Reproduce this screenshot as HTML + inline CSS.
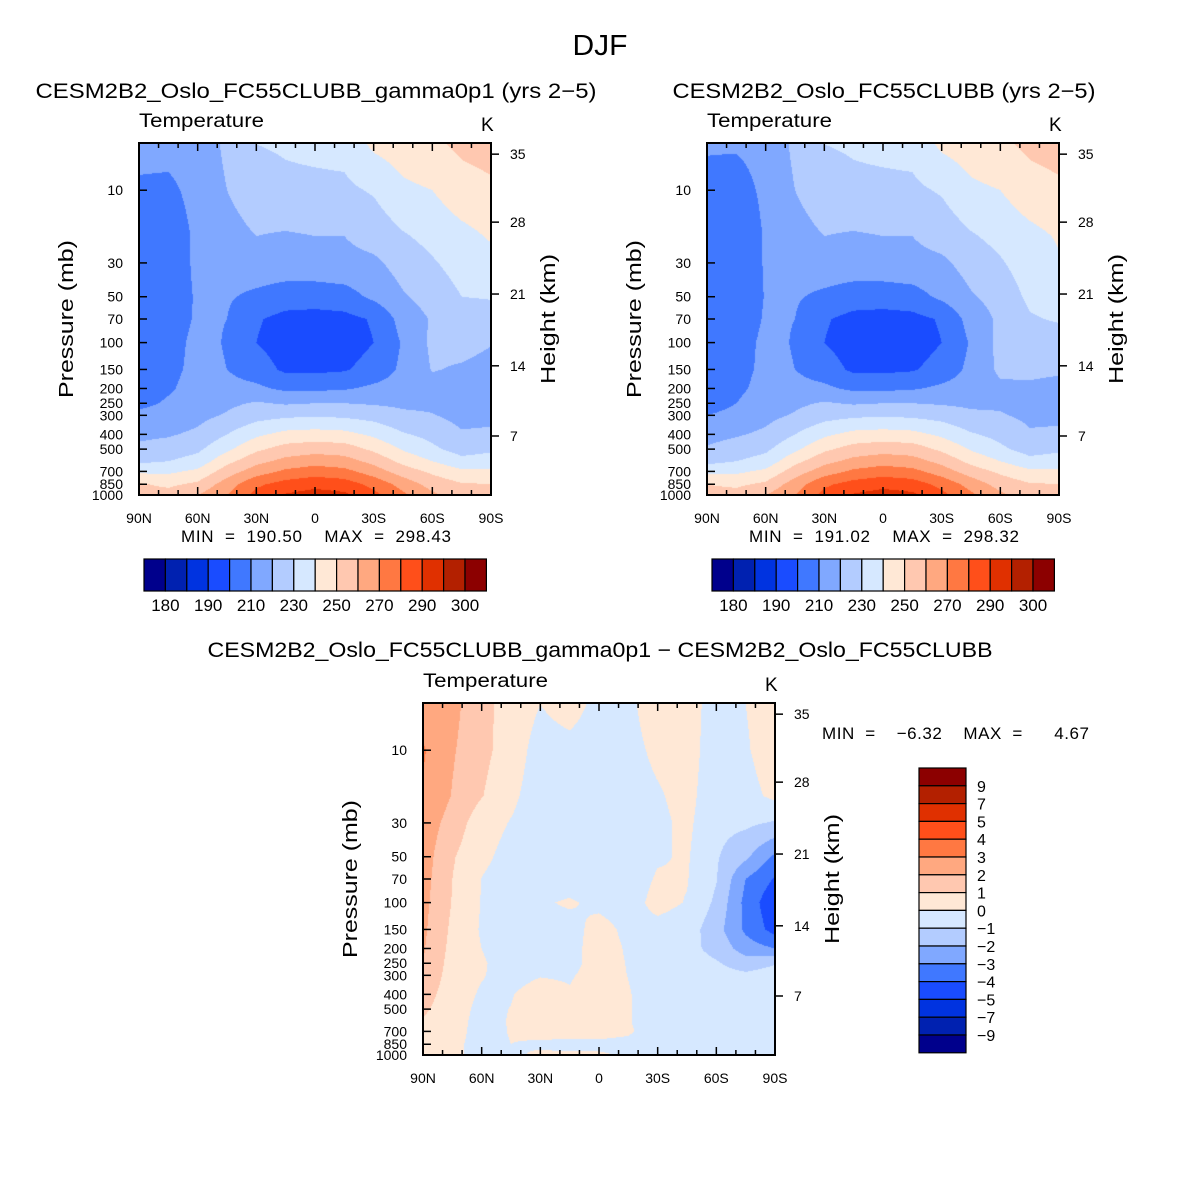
<!DOCTYPE html>
<html><head><meta charset="utf-8">
<style>
html,body{margin:0;padding:0;background:#fff;}
#root{position:relative;width:1200px;height:1200px;overflow:hidden;font-family:"Liberation Sans",sans-serif;}
canvas{position:absolute;}
svg{position:absolute;left:0;top:0;}
</style></head>
<body>
<div id="root">
<canvas id="c1" width="352" height="352" style="left:139px;top:143px"></canvas>
<canvas id="c2" width="352" height="352" style="left:707px;top:143px"></canvas>
<canvas id="c3" width="352" height="352" style="left:423px;top:703px"></canvas>
<svg id="ov" width="1200" height="1200">
<text x="600" y="55" font-size="29" text-anchor="middle" textLength="55" lengthAdjust="spacingAndGlyphs">DJF</text>
</svg>
</div>
<script>
const lats=[90,75,60,45,30,15,0,-15,-30,-45,-60,-75,-90];
const plevs=[5,10,20,30,50,70,100,150,200,250,300,400,500,600,700,850,1000];
const tempLevels=[180,185,190,200,210,220,230,240,250,260,270,280,290,295,300];
const diffLevels=[-9,-7,-5,-4,-3,-2,-1,0,1,2,3,4,5,7,9];
const tempLabels=["180","190","210","230","250","270","290","300"];
const diffLabels=["9","7","5","4","3","2","1","0","\u22121","\u22122","\u22123","\u22124","\u22125","\u22127","\u22129"];
const pTicks=[10,30,50,70,100,150,200,250,300,400,500,700,850,1000];
const hTicks=[35,28,21,14,7];
const hTickP=[5.8,16.2,48,142,410];
const latTicks=["90N","60N","30N","0","30S","60S","90S"];
const colors=["#00008c","#0021b0","#0033e0","#1a4cff","#4078ff","#80a8ff","#b3ccff","#d6e8ff","#ffe8d6","#ffc8b0","#ffa880","#ff7842","#ff4f1a","#e03000","#b32000","#8c0000"];
// columns per latitude (90N..90S), values at plevs (5..1000 mb)
const tempA=[
[213,208.5,203,202,203,204,206,205,206,208,212,218,222,228,238,251,254],
[213,208,204,204,205,206,207,208,209,211,213,219,224,230,238,248,254],
[214,213,212,212,211,211,212,212,213,215,217,222,228,234,242,252,260],
[222,220,216,214,211,210,209.5,210,213,218,221,230,238,247,255,265,270],
[230,226,220,216,208,201,200,205,212,221,226,238,248,257,265,278,283],
[231,228,219,216,205,197,195,198,208,219,228,243,254,263,272,284,291],
[232,228,220,216,205,196,194,198,208,220,229,244,256,266,275,287,294],
[233,228,220,217,206,197,195,199,209,220,228,243,255,264,273,285,292],
[242,231,224,218,212,201,200,204,212,219,226,238,248,257,265,277,283],
[245,238,229,224,219,214,211,212,214,218,222,231,239,247,255,266,272],
[248,240,233,229,224,221,222,220.5,217,218,220.5,227,232,240,248,256,262],
[252,246,237,234,230,226,223,219,216,215,217,221,226,233,242,251,255],
[254,248,241,237,230.5,227,220.5,217,214,213,217,222,228,235,242,250,254]];
const tempB=[
[211,207,201,200,201,202,204,203,204,206,210,217,221,227,237,250,253.5],
[211,206,202,202,203,204,206,207,208,210,212.5,219,224,230,238,248,254],
[213,212,211,211,210.5,211,212,212,213,215,217,222,228,234,242,252,260],
[222,220,216,214,211,210,209.5,210,213,218,221,230,238,247,255,265,270],
[230,226,220,216,208,201,200,205,212,221,226,238,248,257,265,278,283],
[231,228,219,216,205,197,195,198,208,219,228,243,254,263,272,284,291],
[232,228,220,216,205,196,194,198,208,220,229,244,256,266,275,287,294],
[233,228,220,217,206,197,195,199,209,220,228,243,255,264,273,285,292],
[242,231,224,218,212,201,200,204,212,219,226,238,248,257,265,277,283],
[245,238,229,224,219,214,211,212.5,214.5,218,222,231,239,247,255,266,272],
[248,240,233,229,224,222,223,222,218,218.5,220.8,227,232,240,248,256,262],
[252,246,237,235,232,229,226,222,218.5,216.5,218,221,226,233,242,251,255],
[254,248,241,239,234,231,225,221.5,217,214,217.5,222,228,235,242,250,254]];
const diffC=[
[2.5,3.1,2.9,2.6,2.5,2.4,2.3,2.2,2.1,2.0,1.9,1.5,1.2,0.9,0.6,0.5,0.5],
[2.3,2.1,1.95,1.6,1.1,1.0,0.95,0.8,0.7,0.6,0.5,0.4,0.35,0.3,0.3,0.2,0.2],
[1.3,1.3,1.05,0.4,0.2,-0.02,-0.05,-0.1,0.0,0.1,0.05,-0.1,-0.2,-0.25,-0.3,-0.3,-0.3],
[0.6,0.5,0.2,-0.05,-0.3,-0.4,-0.5,-0.5,-0.5,-0.4,-0.3,-0.05,0.02,0.05,0.05,0.0,-0.1],
[0.0,-0.4,-0.5,-0.5,-0.5,-0.4,-0.1,-0.3,-0.4,-0.3,-0.05,0.4,0.4,0.3,0.2,-0.1,0.1],
[0.4,-0.3,-0.5,-0.6,-0.6,-0.4,0.1,-0.3,-0.3,-0.3,-0.1,0.1,0.5,0.4,0.3,-0.2,0.1],
[-0.3,-0.5,-0.6,-0.6,-0.6,-0.5,-0.2,0.3,0.4,0.4,0.4,0.5,0.5,0.4,0.3,-0.2,0.1],
[-0.2,-0.3,-0.4,-0.5,-0.5,-0.5,-0.4,-0.2,-0.1,-0.05,-0.02,0.05,0.05,0.05,0.1,-0.2,-0.1],
[0.5,0.2,-0.1,-0.2,-0.1,0.1,0.3,-0.3,-0.4,-0.4,-0.4,-0.4,-0.4,-0.4,-0.4,-0.4,-0.4],
[0.4,0.4,0.3,0.2,0.1,0.05,-0.05,-0.5,-0.7,-0.6,-0.5,-0.5,-0.5,-0.5,-0.5,-0.5,-0.5],
[-0.4,-0.5,-0.6,-0.7,-0.9,-0.95,-1.2,-1.6,-1.3,-0.9,-0.6,-0.5,-0.5,-0.5,-0.5,-0.5,-0.5],
[0.0,-0.1,-0.3,-0.8,-1.8,-3.0,-3.3,-3.2,-2.5,-1.5,-0.8,-0.5,-0.4,-0.4,-0.4,-0.4,-0.4],
[0.5,0.5,0.2,-1.1,-3.2,-4.1,-4.8,-4.4,-3.0,-1.05,-0.6,-0.4,-0.3,-0.3,-0.3,-0.3,-0.3]];

const W=352,H=352,PTOP=4.9,PBOT=1000;
function yOfP(p){return (Math.log10(p)-Math.log10(PTOP))/(Math.log10(PBOT)-Math.log10(PTOP))*H;}
function xOfLat(l){return (90-l)/180*W;}
function hexRGB(h){return [parseInt(h.substr(1,2),16),parseInt(h.substr(3,2),16),parseInt(h.substr(5,2),16)];}
const rgb=colors.map(hexRGB);
const logP=plevs.map(p=>Math.log10(p));
function sample(data,lat,lp){
  let fi=(90-lat)/15; let i=Math.min(Math.floor(fi),lats.length-2); let fx=fi-i;
  let j=0; while(j<logP.length-2 && lp>logP[j+1]) j++;
  let fy=(lp-logP[j])/(logP[j+1]-logP[j]); fy=Math.max(0,Math.min(1,fy));
  const a=data[i][j],b=data[i+1][j],c=data[i][j+1],d=data[i+1][j+1];
  return a*(1-fx)*(1-fy)+b*fx*(1-fy)+c*(1-fx)*fy+d*fx*fy;
}
function drawContour(id,data,levels){
  const cv=document.getElementById(id),ctx=cv.getContext('2d');
  const img=ctx.createImageData(W,H);
  const lt=Math.log10(PTOP),lb=Math.log10(PBOT);
  for(let y=0;y<H;y++){const lp=lt+(y+0.5)/H*(lb-lt);
    for(let x=0;x<W;x++){const lat=90-(x+0.5)/W*180;
      const v=sample(data,lat,lp); let k=0; while(k<levels.length&&v>=levels[k])k++;
      const c=rgb[k],o=(y*W+x)*4; img.data[o]=c[0];img.data[o+1]=c[1];img.data[o+2]=c[2];img.data[o+3]=255;}}
  ctx.putImageData(img,0,0);
}
drawContour('c1',tempA,tempLevels);
drawContour('c2',tempB,tempLevels);
drawContour('c3',diffC,diffLevels);

const NS="http://www.w3.org/2000/svg",ov=document.getElementById('ov');
function el(tag,attrs,txt){const e=document.createElementNS(NS,tag);for(const k in attrs)e.setAttribute(k,attrs[k]);if(txt!==undefined)e.textContent=txt;ov.appendChild(e);return e;}
function panelAxes(ox,oy,title,tcx,tby,tlen,minmax,mmx,mmy,mmlen,prefix){
  let t=el('text',{x:tcx,y:tby,'font-size':21,'text-anchor':'middle',textLength:tlen,lengthAdjust:'spacingAndGlyphs'},title);
  
  
  t=el('text',{x:ox,y:oy-16,'font-size':19,textLength:125,lengthAdjust:'spacingAndGlyphs'},"Temperature");
  
  
  t=el('text',{x:ox+W-10,y:oy-12,'font-size':19},"K");
  
  
  let r=el('rect',{x:ox,y:oy,width:W,height:H,fill:'none',stroke:'#000','stroke-width':2});
  
  
  for(let lat=90;lat>=-90;lat-=10){const x=ox+xOfLat(lat);const len=(lat%30===0)?8:5;
    el('line',{x1:x,y1:oy+H,x2:x,y2:oy+H-len,stroke:'#000','stroke-width':1.5});
    el('line',{x1:x,y1:oy,x2:x,y2:oy+len,stroke:'#000','stroke-width':1.5});}
  latTicks.forEach((s,i)=>{const lat=90-30*i;
    const e=el('text',{x:ox+xOfLat(lat),y:oy+H+28,'font-size':14,'text-anchor':'middle'},s);
    
    });
  pTicks.forEach(p=>{const y=oy+yOfP(p);
    el('line',{x1:ox,y1:y,x2:ox+8,y2:y,stroke:'#000','stroke-width':1.5});
    const e=el('text',{x:ox-16,y:y+5,'font-size':14,'text-anchor':'end'},String(p));
    
    });
  hTicks.forEach((h,i)=>{const y=oy+yOfP(hTickP[i]);
    el('line',{x1:ox+W,y1:y,x2:ox+W+8,y2:y,stroke:'#000','stroke-width':1.5});
    const e=el('text',{x:ox+W+19,y:y+5,'font-size':14},String(h));
    
    });
  let yl=el('text',{x:0,y:0,'font-size':20,'text-anchor':'middle',textLength:158,lengthAdjust:'spacingAndGlyphs',transform:`translate(${ox-66},${oy+176}) rotate(-90)`},"Pressure (mb)");
  
  
  let hl=el('text',{x:0,y:0,'font-size':20,'text-anchor':'middle',textLength:130,lengthAdjust:'spacingAndGlyphs',transform:`translate(${ox+W+64},${oy+176}) rotate(-90)`},"Height (km)");
  
  
  let mm=el('text',{x:mmx,y:mmy,'font-size':17,'xml:space':'preserve',textLength:mmlen,lengthAdjust:'spacing'},minmax);
  mm.style.whiteSpace='pre';
  
  
}
function hColorbar(x0,y0,prefix){
  const bw=21.4,bh=32;
  colors.forEach((c,i)=>{const r=el('rect',{x:x0+i*bw,y:y0,width:bw,height:bh,fill:c,stroke:'#000','stroke-width':1.2});
    
    });
  tempLabels.forEach((s,i)=>{const e=el('text',{x:x0+(1+2*i)*bw,y:y0+52,'font-size':17,'text-anchor':'middle'},s);
    
    });
}
panelAxes(139,143,"CESM2B2_Oslo_FC55CLUBB_gamma0p1 (yrs 2\u22125)",316,98,561,"MIN  =  190.50    MAX  =  298.43",181,542,270,'panel1');
panelAxes(707,143,"CESM2B2_Oslo_FC55CLUBB (yrs 2\u22125)",884,98,423,"MIN  =  191.02    MAX  =  298.32",749,542,270,'panel2');
panelAxes(423,703,"CESM2B2_Oslo_FC55CLUBB_gamma0p1 \u2212 CESM2B2_Oslo_FC55CLUBB",600,657,785,"MIN  =    \u22126.32    MAX  =      4.67",822,739,267,'panel3');
hColorbar(144,559,'panel1');
hColorbar(712,559,'panel2');
(function(){const x0=919,y0=768,bw=47,bh=17.8;
  for(let i=0;i<colors.length;i++){const r=el('rect',{x:x0,y:y0+i*bh,width:bw,height:bh,fill:colors[colors.length-1-i],stroke:'#000','stroke-width':1.2});
    
    }
  diffLabels.forEach((s,i)=>{const e=el('text',{x:x0+58,y:y0+(i+1)*bh+6,'font-size':16},s);
    
    });
})();
</script>
</body></html>
